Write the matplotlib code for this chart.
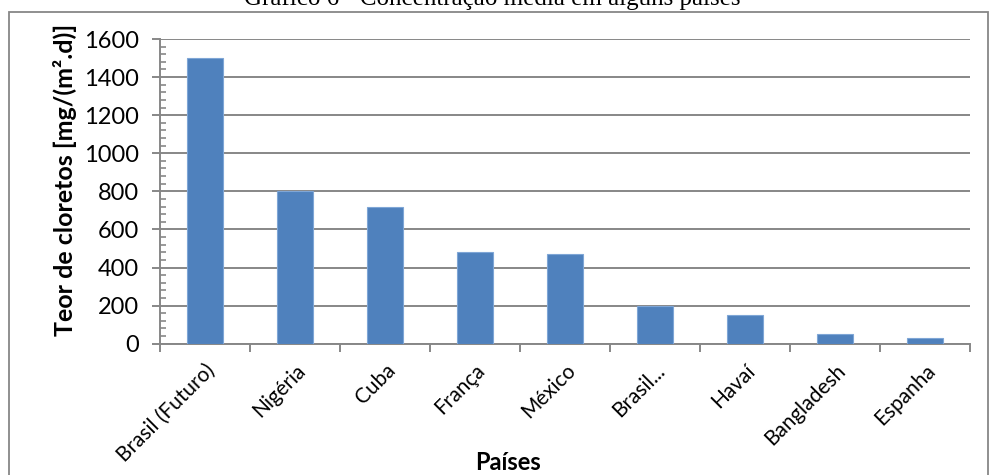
import matplotlib
matplotlib.use("Agg")
import matplotlib.pyplot as plt
from matplotlib.patches import Rectangle
from matplotlib.ticker import MultipleLocator

# data
paises = ["Brasil (Futuro)", "Nigéria", "Cuba", "França", "México",
          "Brasil...", "Havaí", "Bangladesh", "Espanha"]
teor = [1500, 800, 720, 480, 470, 200, 150, 52, 28]

titulo = "Gráfico 6 - Concentração média em alguns países"
ylabel = "Teor de cloretos [mg/(m².d)]"
xlabel = "Países"

W, H = 991, 475
plt.rcParams['font.family'] = ['Lato', 'DejaVu Sans']

fig = plt.figure(figsize=(W / 100, H / 100), dpi=100)

# outer chart frame (bottom runs off the image)
fig.patches.append(Rectangle((9 / W, -0.1), (988 - 9) / W, 1.1 - 11.7 / H,
                             transform=fig.transFigure, fill=False,
                             edgecolor='#878787', lw=1.3))

# plot area
ax = fig.add_axes([160 / W, 1 - 343.7 / H, 810 / W, 304.7 / H])
x = range(len(paises))
ax.bar(x, teor, width=0.4, color='#4F81BD', edgecolor='#7FA6D6', lw=0.8, zorder=3)

ax.set_xlim(-0.5, len(paises) - 0.5)
ax.set_ylim(0, 1600)
ax.yaxis.set_major_locator(MultipleLocator(200))
ax.yaxis.set_minor_locator(MultipleLocator(40))
ax.grid(axis='y', color='#878787', lw=1.4, zorder=0)

for s in ['top', 'right']:
    ax.spines[s].set_visible(False)
for s in ['left', 'bottom']:
    ax.spines[s].set_color('#878787')
    ax.spines[s].set_linewidth(1.4)

ax.tick_params(axis='y', which='major', length=6, width=1.4, color='#878787',
               labelsize=17, pad=9)
ax.tick_params(axis='y', which='minor', direction='in', length=4.5, width=1.2,
               color='#878787')

# category boundaries on x axis
ax.set_xticks([i - 0.5 for i in range(len(paises) + 1)], minor=False)
ax.set_xticklabels([])
ax.set_xticks(list(x), minor=True)
ax.set_xticklabels(paises, minor=True, rotation=45, ha='right',
                   rotation_mode='anchor', fontsize=15)
ax.tick_params(axis='x', which='major', length=6, width=1.4, color='#878787')
ax.tick_params(axis='x', which='minor', length=0, pad=12)

fig.text(65 / W, 1 - 180 / H, ylabel, rotation=90, ha='center', va='center',
         fontsize=18, fontweight='bold')
fig.text(508 / W, 1 - 462 / H, xlabel, ha='center', va='center',
         fontsize=17, fontweight='bold')
fig.text(492 / W, 1 - 5 / H, titulo, ha='center', va='baseline',
         fontsize=18, family=['Liberation Serif', 'DejaVu Serif'])

fig.savefig("out.png", dpi=100)
